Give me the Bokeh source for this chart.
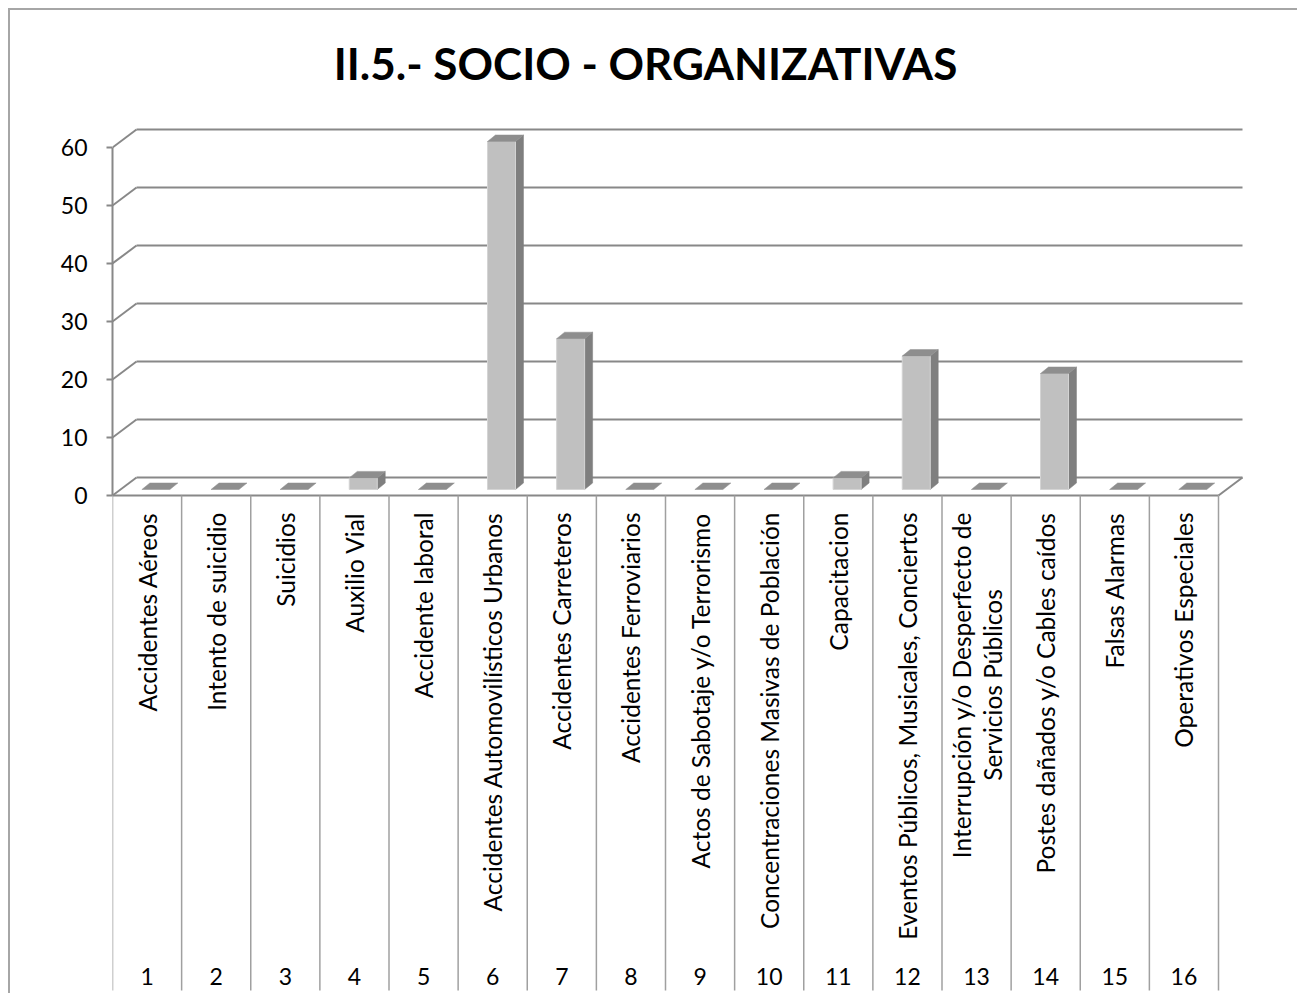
import numpy as np
from bokeh.plotting import figure
from bokeh.models import Range1d, FixedTicker, Label
from bokeh.core.properties import value
from bokeh.embed import file_html
from bokeh.resources import INLINE

# ---------------- data ----------------
categories = [
    "Accidentes Aéreos",
    "Intento de suicidio",
    "Suicidios",
    "Auxilio Vial",
    "Accidente laboral",
    "Accidentes Automovilísticos Urbanos",
    "Accidentes Carreteros",
    "Accidentes Ferroviarios",
    "Actos de Sabotaje y/o Terrorismo",
    "Concentraciones Masivas de Población",
    "Capacitacion",
    "Eventos Públicos, Musicales, Conciertos",
    "Interrupción y/o Desperfecto de\nServicios Públicos",
    "Postes dañados y/o Cables caídos",
    "Falsas Alarmas",
    "Operativos Especiales",
]
numbers = [str(i) for i in range(1, 17)]
values = [0, 0, 0, 2, 0, 60, 26, 0, 0, 0, 2, 23, 0, 20, 0, 0]
y_ticks = [0, 10, 20, 30, 40, 50, 60]
title_text = "II.5.- SOCIO - ORGANIZATIVAS"

# ---------------- geometry (pixels -> data units) ----------------
PX_X = 69.125   # px per category
PX_Y = 5.8      # px per value unit
ZERO_PAGE_Y = 495
LEFT_PAGE_X = 112
CANVAS_X0, CANVAS_Y0 = 10, 10
W, H = 1289, 985

def ux(px):
    return px / PX_X

def uy(px):
    return px / PX_Y

def page_y(py):
    return (ZERO_PAGE_Y - py) / PX_Y

def page_x(px):
    return 0.5 + (px - LEFT_PAGE_X) / PX_X

BX, BY = ux(24), uy(18)          # floor/back wall depth
FX, FY = ux(8.8), uy(6)          # bar front face offset
DX, DY = ux(8), uy(6.5)          # bar depth
BW = ux(28)                      # bar width

FONT = "Lato"
GRID = "#888888"
LABEL_SIZE = "24.5px"

x_range = Range1d(0.5, page_x(CANVAS_X0 + W))
y_range = Range1d(page_y(CANVAS_Y0 + H), page_y(CANVAS_Y0))

p = figure(width=W, height=H, x_range=x_range, y_range=y_range,
           output_backend="svg", toolbar_location=None,
           x_axis_location=None, min_border_left=LEFT_PAGE_X - CANVAS_X0,
           min_border_right=0, min_border_top=0, min_border_bottom=0)
p.outline_line_color = None
p.xgrid.visible = False
p.ygrid.visible = False
p.background_fill_color = "white"
p.border_fill_color = "white"
p.styles = {"border-left": "2px solid #a6a6a6", "border-top": "2px solid #a6a6a6",
            "margin-left": "8px", "margin-top": "8px"}

n = len(categories)
xs = np.arange(1, n + 1, dtype=float)
vals = np.array(values, dtype=float)

# ---------------- back wall gridlines & floor ----------------
gt = np.array(y_ticks, dtype=float)
left0 = 0.5
right0 = n + 0.5
p.segment(x0=np.full_like(gt, left0), y0=gt, x1=np.full_like(gt, left0 + BX), y1=gt + BY,
          line_color=GRID, line_width=2)
p.segment(x0=np.full_like(gt, left0 + BX), y0=gt + BY, x1=np.full_like(gt, right0 + BX), y1=gt + BY,
          line_color=GRID, line_width=2)
p.segment(x0=[left0, right0], y0=[0, 0], x1=[right0, right0 + BX], y1=[0, BY],
          line_color=GRID, line_width=2)

# ---------------- table below ----------------
table_bottom = page_y(990)
vx = np.arange(0, n + 1) + 0.5
p.segment(x0=vx, y0=np.zeros_like(vx), x1=vx, y1=np.full_like(vx, table_bottom),
          line_color="#a0a0a0", line_width=1.5)

p.text(x=xs, y=np.full(n, page_y(976)), text=numbers, text_align="center",
       text_baseline="middle", text_font=value(FONT), text_font_size="23px",
       text_color="black")

single_x, single_y, single_t = [], [], []
multi_x, multi_y, multi_t = [], [], []
for i, lab in enumerate(categories):
    lines = lab.split("\n")
    if len(lines) == 1:
        single_x.append(xs[i]); single_y.append(page_y(512)); single_t.append(lab)
    else:
        k = len(lines)
        for j, ln in enumerate(lines):
            multi_x.append(xs[i] + ux((j - (k - 1) / 2) * 31))
            multi_y.append(page_y(684.5))
            multi_t.append(ln)

p.text(x=single_x, y=single_y, text=single_t, angle=np.pi / 2, text_align="right",
       text_baseline="middle", text_font=value(FONT), text_font_size=LABEL_SIZE, text_color="black")
p.text(x=multi_x, y=multi_y, text=multi_t, angle=np.pi / 2, text_align="center",
       text_baseline="middle", text_font=value(FONT), text_font_size=LABEL_SIZE, text_color="black")

# ---------------- 3D bars ----------------
L = xs - BW / 2 + FX
R = xs + BW / 2 + FX
B = np.full(n, FY)
T = vals + FY

side_xs = [[R[i], R[i] + DX, R[i] + DX, R[i]] for i in range(n) if vals[i] > 0]
side_ys = [[B[i], B[i] + DY, T[i] + DY, T[i]] for i in range(n) if vals[i] > 0]
p.patches(xs=side_xs, ys=side_ys, fill_color="#7f7f7f", line_color="#7f7f7f", line_width=0.5)

pos = vals > 0
p.quad(left=L[pos], right=R[pos], bottom=B[pos], top=T[pos],
       fill_color="#c0c0c0", line_color="#d4d4d4", line_width=1)

top_xs = [[L[i], R[i], R[i] + DX, L[i] + DX] for i in range(n)]
top_ys = [[T[i], T[i], T[i] + DY, T[i] + DY] for i in range(n)]
p.patches(xs=top_xs, ys=top_ys, fill_color="#8e8e8e", line_color="#8e8e8e", line_width=0.5)

# ---------------- y axis ----------------
ax = p.yaxis[0]
ax.ticker = FixedTicker(ticks=y_ticks)
ax.bounds = (0, 60)
ax.axis_line_color = GRID
ax.axis_line_width = 2
ax.major_tick_line_color = GRID
ax.major_tick_line_width = 2
ax.major_tick_out = 6
ax.major_tick_in = 0
ax.minor_tick_line_color = None
ax.major_label_text_font = FONT
ax.major_label_text_font_size = "23px"
ax.major_label_text_color = "black"
ax.major_label_standoff = 19

# ---------------- title ----------------
p.add_layout(Label(x=page_x(645), y=page_y(62), text=title_text, text_align="center",
                   text_baseline="middle", text_font=FONT, text_font_style="bold",
                   text_font_size="44px", text_color="black"))

open("out.html", "w").write(file_html(p, INLINE))
